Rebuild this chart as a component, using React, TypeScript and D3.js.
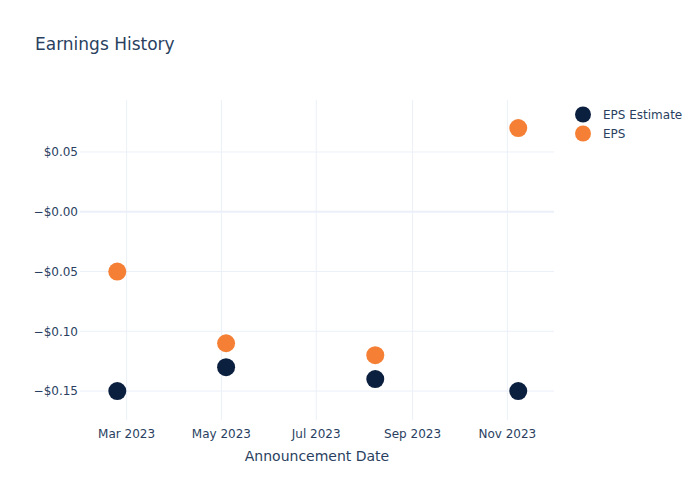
import React from "react";
import * as d3 from "d3";

const dates = ["2023-02-23", "2023-05-04", "2023-08-08", "2023-11-08"];
const epsEstimate = [-0.15, -0.13, -0.14, -0.15];
const eps = [-0.05, -0.11, -0.12, 0.07];
const yTicks = [0.05, 0, -0.05, -0.1, -0.15];
const xTicks = ["2023-03-01", "2023-05-01", "2023-07-01", "2023-09-01", "2023-11-01"];
const seriesNames = ["EPS Estimate", "EPS"];
const colors = ["#0b1f3f", "#f58035"];

const W = 700, H = 500;
const left = 80, right = 554, top = 100, bottom = 420;
const font = "'DejaVu Sans', 'Open Sans', sans-serif";
const textColor = "#2a3f5f";
const gridColor = "#ebf0f8";

export default function App() {
  const parse = d3.utcParse("%Y-%m-%d");
  const x = d3.scaleUtc()
    .domain([parse("2023-01-30")!, parse("2023-12-01")!])
    .range([left, right]);
  const y = d3.scaleLinear().domain([-0.1742, 0.0935]).range([bottom, top]);
  const fmtX = d3.utcFormat("%b %Y");
  const fmtY = (v: number) => (v > 0 ? "$" + v.toFixed(2) : "\u2212$" + Math.abs(v).toFixed(2));
  const series = [epsEstimate, eps];

  return (
    <svg width={W} height={H} style={{ position: "absolute", left: 0, top: 0, background: "#fff" }}>
      <rect x={0} y={0} width={W} height={H} fill="#fff" />
      {xTicks.map((t) => (
        <line key={t} x1={x(parse(t)!)} x2={x(parse(t)!)} y1={top} y2={bottom} stroke={gridColor} strokeWidth={1} />
      ))}
      {yTicks.map((t) => (
        <line key={t} x1={left} x2={right} y1={y(t)} y2={y(t)} stroke={gridColor} strokeWidth={t === 0 ? 2 : 1} />
      ))}
      {yTicks.map((t) => (
        <text key={t} x={left - 2} y={y(t)} dy="0.35em" textAnchor="end" fontSize={12} fill={textColor} fontFamily={font}>
          {fmtY(t)}
        </text>
      ))}
      {xTicks.map((t) => (
        <text key={t} x={x(parse(t)!)} y={434} dy="0.35em" textAnchor="middle" fontSize={12} fill={textColor} fontFamily={font}>
          {fmtX(parse(t)!)}
        </text>
      ))}
      <text x={(left + right) / 2} y={461} textAnchor="middle" fontSize={14} fill={textColor} fontFamily={font}>
        Announcement Date
      </text>
      <text x={35} y={50} fontSize={17} fill={textColor} fontFamily={font}>
        Earnings History
      </text>
      {series.map((s, si) =>
        s.map((v, i) => (
          <circle key={si + "-" + i} cx={x(parse(dates[i])!)} cy={y(v)} r={9} fill={colors[si]} />
        ))
      )}
      {seriesNames.map((n, i) => (
        <g key={n} transform={`translate(583, ${114.5 + i * 19})`}>
          <circle cx={0} cy={0} r={8} fill={colors[i]} />
          <text x={20} y={0} dy="0.35em" fontSize={12} fill={textColor} fontFamily={font}>
            {n}
          </text>
        </g>
      ))}
    </svg>
  );
}
